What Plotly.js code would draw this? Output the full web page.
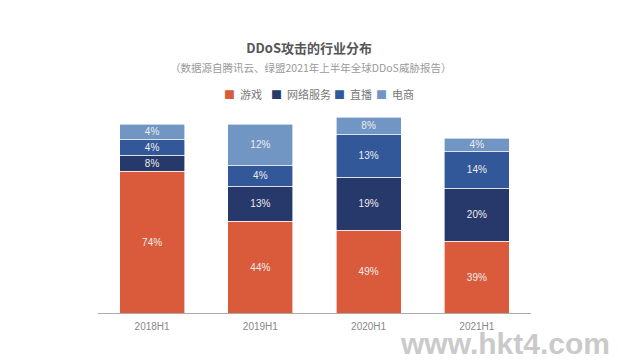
<!DOCTYPE html>
<html><head><meta charset="utf-8">
<script src="https://cdn.plot.ly/plotly-3.0.1.min.js"></script>
<style>html,body{margin:0;padding:0;background:#fff}#chart{width:622px;height:360px}</style>
</head><body><div id="chart"></div>
<script>
// categories
const periods = ['2018H1', '2019H1', '2020H1', '2021H1'];
const seriesNames = ['游戏', '网络服务', '直播', '电商'];
// percentage labels as printed on the chart
const gameLabel = ['74%', '44%', '49%', '39%'];
const netLabel = ['8%', '13%', '19%', '20%'];
const liveLabel = ['4%', '4%', '13%', '14%'];
const shopLabel = ['4%', '12%', '8%', '4%'];
// drawn segment heights (the reference does not draw them proportionally)
const gameHeight = [142, 92, 83, 72];
const netHeight = [16, 35, 53, 53];
const liveHeight = [16, 21, 43, 37];
const shopHeight = [15, 41, 17, 13];

const colors = ['#D95B3B', '#27386A', '#33589A', '#7196C3'];
const heights = [gameHeight, netHeight, liveHeight, shopHeight];
const labels = [gameLabel, netLabel, liveLabel, shopLabel];

const traces = seriesNames.map((name, i) => ({
  type: 'bar', name: name, x: periods, y: heights[i],
  text: labels[i], textposition: 'inside', insidetextanchor: 'middle',
  textfont: {color: '#EDEDED', size: 10, family: 'Liberation Sans, Arial, sans-serif'},
  marker: {color: colors[i], line: {color: '#ffffff', width: 0.6}},
  hoverinfo: 'skip', cliponaxis: false, showlegend: false
}));

// legend drawn as coloured squares + names, laid out like the reference
const legendX = [227, 274, 337, 379];
const legendAnn = seriesNames.map((name, i) => ({
  text: '<span style="color:' + colors[i] + '">■</span>  ' + name,
  xref: 'paper', yref: 'paper', x: (legendX[i] - 5 - 98) / 433, y: (313.5 - 94.5) / 201,
  xanchor: 'left', yanchor: 'middle', showarrow: false,
  font: {size: 11, color: '#777', family: 'Noto Sans CJK SC, sans-serif'}
}));

const layout = {
  width: 622, height: 360, barmode: 'stack', bargap: 0.4,
  margin: {l: 98, r: 91, t: 112, b: 47},
  paper_bgcolor: '#fff', plot_bgcolor: '#fff',
  uniformtext: {minsize: 10, mode: 'show'},
  font: {family: 'Noto Sans CJK SC, sans-serif', color: '#666'},
  title: {text: 'DDoS攻击的行业分布', x: 0.497, xanchor: 'center', y: 1 - 48/360, yanchor: 'middle', yref: 'container',
    font: {size: 13, color: '#555', family: 'Noto Sans CJK SC, sans-serif', weight: 700}},
  annotations: [
    {text: '（数据源自腾讯云、绿盟2021年上半年全球DDoS威胁报告）', xref: 'paper', yref: 'paper', x: 0.49, y: (313.5-67.5)/201,
     xanchor: 'center', yanchor: 'middle', showarrow: false, font: {size: 10.5, color: '#999'}},
    {text: '<b>www.hkt4.com</b>', xref: 'paper', yref: 'paper', x: (505-98)/433, y: (313.5-344)/201,
     xanchor: 'center', yanchor: 'middle', showarrow: false,
     font: {size: 30, color: '#CACACA', family: 'Liberation Sans, Arial, sans-serif'}}
  ].concat(legendAnn),
  xaxis: {type: 'category', range: [-0.5, 3.5], showline: true, linecolor: '#AAAAAA', linewidth: 1,
    ticks: '', ticklabelstandoff: 4, showgrid: false, zeroline: false, fixedrange: true,
    tickfont: {size: 10, color: '#888', family: 'Liberation Sans, Arial, sans-serif'}},
  yaxis: {range: [0, 201], visible: false, showgrid: false, zeroline: false, fixedrange: true},
  showlegend: false
};
Plotly.newPlot('chart', traces, layout, {displayModeBar: false, staticPlot: true});
</script></body></html>
